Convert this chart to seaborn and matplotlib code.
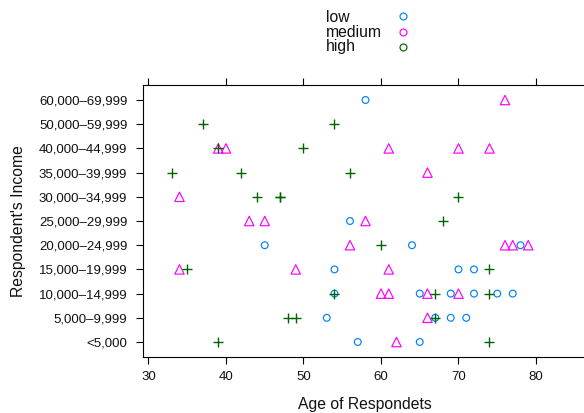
import matplotlib
matplotlib.use("Agg")
import matplotlib.pyplot as plt
import seaborn as sns
import pandas as pd
from matplotlib.lines import Line2D

income_levels = ["<5,000", "5,000–9,999", "10,000–14,999", "15,000–19,999",
                 "20,000–24,999", "25,000–29,999", "30,000–34,999",
                 "35,000–39,999", "40,000–44,999", "50,000–59,999",
                 "60,000–69,999"]

low_age = [58, 56, 45, 64, 78, 54, 70, 72, 54, 65, 69, 72, 75, 77, 53, 67, 69, 71, 57, 65]
low_income = ["60,000–69,999", "25,000–29,999", "20,000–24,999", "20,000–24,999",
              "20,000–24,999", "15,000–19,999", "15,000–19,999", "15,000–19,999",
              "10,000–14,999", "10,000–14,999", "10,000–14,999", "10,000–14,999",
              "10,000–14,999", "10,000–14,999", "5,000–9,999", "5,000–9,999",
              "5,000–9,999", "5,000–9,999", "<5,000", "<5,000"]

medium_age = [76, 39, 40, 61, 70, 74, 66, 34, 43, 45, 58, 56, 76, 77, 79,
              34, 49, 61, 60, 61, 66, 70, 66, 62]
medium_income = ["60,000–69,999", "40,000–44,999", "40,000–44,999", "40,000–44,999",
                 "40,000–44,999", "40,000–44,999", "35,000–39,999", "30,000–34,999",
                 "25,000–29,999", "25,000–29,999", "25,000–29,999", "20,000–24,999",
                 "20,000–24,999", "20,000–24,999", "20,000–24,999", "15,000–19,999",
                 "15,000–19,999", "15,000–19,999", "10,000–14,999", "10,000–14,999",
                 "10,000–14,999", "10,000–14,999", "5,000–9,999", "<5,000"]

high_age = [37, 54, 39, 50, 33, 42, 56, 44, 47, 47, 70, 68, 60, 35, 74,
            54, 67, 74, 48, 49, 67, 39, 74]
high_income = ["50,000–59,999", "50,000–59,999", "40,000–44,999", "40,000–44,999",
               "35,000–39,999", "35,000–39,999", "35,000–39,999", "30,000–34,999",
               "30,000–34,999", "30,000–34,999", "30,000–34,999", "25,000–29,999",
               "20,000–24,999", "15,000–19,999", "15,000–19,999", "10,000–14,999",
               "10,000–14,999", "10,000–14,999", "5,000–9,999", "5,000–9,999",
               "5,000–9,999", "<5,000", "<5,000"]

groups = ["low", "medium", "high"]
x_ticks = [30, 40, 50, 60, 70, 80]

frames = []
for g, ages, incs in [("low", low_age, low_income),
                      ("medium", medium_age, medium_income),
                      ("high", high_age, high_income)]:
    frames.append(pd.DataFrame({"age": ages, "income": incs, "group": g}))
df = pd.concat(frames, ignore_index=True)
df["pos"] = df["income"].map({lab: i for i, lab in enumerate(income_levels)})

colors = {"low": "#0080ff", "medium": "#ff00ff", "high": "#006400"}

sns.set_theme(style="white")
plt.rcParams["font.family"] = ["Liberation Sans", "DejaVu Sans"]

W, H = 584, 413
fig = plt.figure(figsize=(W / 100, H / 100), dpi=100)
left_px, right_px, top_px, bot_px = 143.3, 587.0, 85.0, 356.7
ax = fig.add_axes([left_px / W, 1 - bot_px / H, (right_px - left_px) / W, (bot_px - top_px) / H])

sub = df[df.group == "low"]
sns.scatterplot(data=sub, x="age", y="pos", marker="o", s=24, color=colors["low"],
                facecolor="none", edgecolor=colors["low"], linewidth=0.85, ax=ax, legend=False)
sub = df[df.group == "medium"]
sns.scatterplot(data=sub, x="age", y="pos", marker="^", s=46, color=colors["medium"],
                facecolor="none", edgecolor=colors["medium"], linewidth=0.85, ax=ax, legend=False)
sub = df[df.group == "high"]
sns.scatterplot(data=sub, x="age", y="pos", marker="+", s=52, color=colors["high"],
                linewidth=1.0, ax=ax, legend=False)

xmin = 29.33
ax.set_xlim(xmin, xmin + (right_px - left_px) / 7.75)
ax.set_ylim(-0.607, len(income_levels) - 1 + 0.62)
ax.set_xticks(x_ticks)
ax.set_yticks(range(len(income_levels)))
ax.set_yticklabels(income_levels)
ax.tick_params(axis="both", which="both", direction="out", length=5, width=0.8,
               color="black", labelsize=9.5, labelcolor="#111111")
ax.tick_params(axis="x", top=True, bottom=True, labeltop=False, pad=5)
ax.tick_params(axis="y", left=True, right=False, pad=6.5)
for sp in ax.spines.values():
    sp.set_color("black")
    sp.set_linewidth(0.8)

ax.set_xlabel("Age of Respondets", fontsize=11.3, color="#111111")
ax.set_ylabel("Respondent's Income", fontsize=11.3, color="#111111")
ax.xaxis.set_label_coords((365 - left_px) / (right_px - left_px), (bot_px - 405) / (bot_px - top_px))
ax.xaxis.label.set_va("center")
ax.yaxis.set_label_coords((19 - left_px) / (right_px - left_px), 0.5)
ax.yaxis.label.set_va("center")

# legend (key) at the top
text_base = [22, 37, 51]
mark_y = [15.5, 31.8, 47]
for g, tb, my in zip(groups, text_base, mark_y):
    fig.text(326 / W, 1 - tb / H, g, fontsize=11.3, ha="left", va="baseline", color="#111111")
    fig.add_artist(Line2D([403 / W], [1 - my / H], marker="o", markersize=5,
                          markerfacecolor="none", markeredgecolor=colors[g],
                          markeredgewidth=0.85, linestyle="none", transform=fig.transFigure))

fig.savefig("out.png", dpi=100)
